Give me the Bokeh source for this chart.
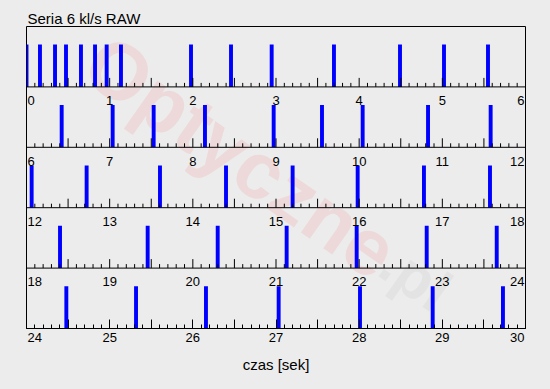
import numpy as np
from bokeh.plotting import figure
from bokeh.models import (ColumnDataSource, FixedTicker, Span, Label, LinearAxis,
                          Range1d, CustomJSTickFormatter)
from bokeh.core.properties import value
from bokeh.embed import file_html
from bokeh.resources import INLINE

# ---------------- data ----------------
title_text = "Seria 6 kl/s RAW"
x_title = "czas [sek]"
row_starts = [0, 6, 12, 18, 24]          # seconds at the start of each strip
row_length = 6                            # seconds per strip
# moments of the shots (seconds)
shot_times = [0.0, 0.162, 0.343, 0.475, 0.655, 0.824, 0.964, 1.136, 1.978, 2.459,
              2.948, 3.697, 4.491, 5.020, 5.549,
              6.423, 7.036, 7.529, 8.146, 8.972, 9.553, 10.042, 10.828, 11.581,
              12.062, 12.723, 13.605, 14.399, 15.200, 15.982, 16.779, 17.573,
              18.403, 19.457, 20.299, 21.128, 21.970, 22.812, 23.654,
              24.479, 25.317, 26.158, 27.032, 28.010, 28.884, 29.729]
shot_level = [0.70] * len(shot_times)     # bar height (fraction of a strip)
major_step = 0.5
minor_step = 0.1
watermark_main = "Optyczne"
watermark_tail = ".pl"

FONT = "Liberation Sans"
BG = "#ececec"
n_rows = len(row_starts)

FRAME_W = 499
FRAME_H = 302
px_x = FRAME_W / row_length
px_y = FRAME_H / n_rows      # pixels per strip
LABEL_PX = 13

p = figure(width=550, height=389,
           x_range=Range1d(0, row_length), y_range=Range1d(0, n_rows),
           output_backend="svg", toolbar_location=None, y_axis_location=None,
           min_border_left=26, min_border_right=25, min_border_top=26,
           min_border_bottom=61,
           background_fill_color=BG, border_fill_color=BG,
           outline_line_color="black", outline_line_width=1)
p.xgrid.visible = False
p.ygrid.visible = False

# ---------------- title ----------------
p.title.text = title_text
p.title.text_font = FONT
p.title.text_font_size = "15px"
p.title.text_font_style = "normal"
p.title.text_color = "black"
p.title.align = "left"
p.title.offset = 1
p.title.standoff = 0

# ------------- watermark --------------
p.text(x=[2.58], y=[2.84], text=[watermark_main], angle=[-0.61],
       text_font=value(FONT), text_font_style="bold", text_font_size="80px",
       text_color="#ff0000", text_alpha=0.08, text_align="center",
       text_baseline="middle")
p.text(x=[4.68], y=[0.85], text=[watermark_tail], angle=[-0.61],
       text_font=value(FONT), text_font_style="bold", text_font_size="60px",
       text_color="#808080", text_alpha=0.08, text_align="center",
       text_baseline="middle")

# --------------- bars -----------------
t = np.array(shot_times)
row_idx = np.floor(t / row_length).astype(int)
xs = t - np.array(row_starts)[row_idx]
base = (n_rows - 1 - row_idx).astype(float)
src = ColumnDataSource(dict(x=xs, bottom=base, top=base + np.array(shot_level)))
p.vbar(x="x", bottom="bottom", top="top", width=0.047, source=src,
       fill_color="#0000ff", line_color=None)

# ------------- separators -------------
for k in range(1, n_rows):
    p.add_layout(Span(location=k, dimension="width", line_color="black",
                      line_width=1))

# ---------------- ticks ---------------
major_pos = np.round(np.arange(0, row_length + 1e-9, major_step), 3)
minor_pos = np.round(np.arange(0, row_length + 1e-9, minor_step), 3)

ax = p.xaxis[0]
ax.ticker = FixedTicker(ticks=list(major_pos), minor_ticks=list(minor_pos))
ax.major_tick_in = 9
ax.major_tick_out = 0
ax.minor_tick_in = 4
ax.minor_tick_out = 0
ax.axis_line_color = "black"
ax.major_tick_line_color = "black"
ax.minor_tick_line_color = "black"
ax.formatter = CustomJSTickFormatter(code="return ''")
ax.major_label_text_font_size = "0px"
ax.major_label_standoff = 0

# ticks for the upper strips (same positions as the axis)
seg = dict(x0=[], y0=[], x1=[], y1=[])
for r in range(n_rows - 1):
    yb = n_rows - 1 - r
    for xm in minor_pos:
        is_major = abs(xm / major_step - round(xm / major_step)) < 1e-6
        h = (9 if is_major else 4) / px_y
        seg["x0"].append(xm); seg["x1"].append(xm)
        seg["y0"].append(yb); seg["y1"].append(yb + h)
p.segment(x0="x0", y0="y0", x1="x1", y1="y1", source=ColumnDataSource(seg),
          line_color="black", line_width=1)


def label_x(k, text):
    """edge labels are pushed inside the frame (left / right aligned)"""
    half = 0.5 * LABEL_PX * 0.556 * len(text) / px_x
    if k == 0:
        return k + half + 1.0 / px_x
    if k == row_length:
        return k - half - 1.0 / px_x
    return float(k)


# ------------- tick labels (upper strips) -------------
for r, start in enumerate(row_starts[:-1]):
    yb = n_rows - 1 - r
    for k in range(row_length + 1):
        txt = str(start + k)
        p.add_layout(Label(x=label_x(k, txt), y=yb - 13.7 / px_y, text=txt,
                           text_align="center",
                           text_baseline="alphabetic", text_font=FONT,
                           text_font_size=f"{LABEL_PX}px", text_color="black"))

# ------------- tick labels (bottom strip) on a second axis -------------
last = row_starts[-1]
lab_pos = [label_x(k, str(last + k)) for k in range(row_length + 1)]
lab_txt = {lab_pos[k]: str(last + k) for k in range(row_length + 1)}
ax2 = LinearAxis(ticker=FixedTicker(ticks=lab_pos, minor_ticks=[]),
                 major_label_overrides=lab_txt,
                 major_tick_in=0, major_tick_out=0,
                 axis_line_color=None, major_tick_line_color=None,
                 major_label_standoff=4,
                 major_label_text_font=FONT,
                 major_label_text_font_size=f"{LABEL_PX}px",
                 major_label_text_color="black",
                 axis_label=x_title, axis_label_text_font=FONT,
                 axis_label_text_font_size="15px",
                 axis_label_text_font_style="normal",
                 axis_label_text_color="black",
                 axis_label_standoff=11)
p.add_layout(ax2, "below")

open("out.html", "w").write(
    file_html(p, INLINE).replace("<body>", '<body style="background-color:#ececec;">'))
